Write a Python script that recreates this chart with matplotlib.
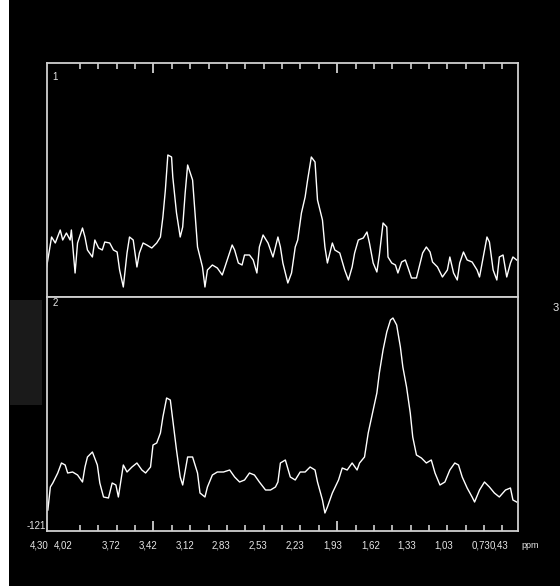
import numpy as np
import matplotlib
matplotlib.use("Agg")
import matplotlib.pyplot as plt
import matplotlib.transforms as mtransforms

# spectrum 1 (upper trace): chemical shift (ppm) / intensity (a.u.)
ppm_1 = [4.24, 4.20, 4.17, 4.13, 4.11, 4.08, 4.05, 4.04, 4.01, 3.99, 3.95, 3.93, 3.91, 3.87,
         3.85, 3.82, 3.79, 3.77, 3.73, 3.70, 3.67, 3.65, 3.62, 3.59, 3.57, 3.54, 3.51, 3.49,
         3.46, 3.43, 3.39, 3.35, 3.32, 3.30, 3.28, 3.26, 3.23, 3.22, 3.19, 3.16, 3.14, 3.12,
         3.10, 3.06, 3.04, 3.02, 2.98, 2.96, 2.94, 2.90, 2.86, 2.82, 2.78, 2.74, 2.72, 2.69,
         2.66, 2.64, 2.60, 2.57, 2.54, 2.52, 2.49, 2.45, 2.41, 2.37, 2.35, 2.33, 2.29, 2.26,
         2.23, 2.21, 2.18, 2.15, 2.13, 2.10, 2.07, 2.05, 2.01, 1.99, 1.97, 1.93, 1.91, 1.87,
         1.83, 1.80, 1.77, 1.75, 1.72, 1.68, 1.65, 1.63, 1.60, 1.57, 1.55, 1.52, 1.49, 1.48,
         1.45, 1.42, 1.40, 1.37, 1.34, 1.32, 1.29, 1.25, 1.22, 1.20, 1.17, 1.14, 1.12, 1.08,
         1.04, 1.00, 0.98, 0.95, 0.92, 0.90, 0.87, 0.84, 0.80, 0.76, 0.74, 0.71, 0.68, 0.66,
         0.63, 0.60, 0.58, 0.55, 0.52, 0.49, 0.47, 0.44]
amp_1 = [30, 60, 54, 67, 57, 64, 57, 67, 24, 54, 69, 60, 47, 40,
         57, 49, 47, 55, 54, 47, 45, 27, 10, 44, 60, 57, 30, 44,
         54, 52, 49, 54, 60, 80, 107, 142, 140, 120, 84, 60, 70, 104,
         132, 117, 84, 50, 30, 10, 27, 32, 29, 22, 37, 52, 47, 34,
         32, 42, 42, 37, 24, 50, 62, 54, 40, 60, 50, 34, 14, 24,
         50, 57, 84, 100, 117, 140, 135, 97, 77, 50, 34, 54, 47, 44,
         27, 17, 30, 44, 57, 59, 65, 54, 34, 25, 42, 74, 70, 40,
         34, 32, 24, 35, 37, 30, 19, 19, 34, 44, 50, 45, 35, 30,
         20, 27, 40, 24, 17, 34, 45, 37, 35, 27, 20, 40, 60, 55,
         27, 17, 40, 42, 20, 34, 40, 37]

# spectrum 2 (lower trace)
ppm_2 = [4.23, 4.21, 4.19, 4.15, 4.12, 4.09, 4.07, 4.03, 3.99, 3.95, 3.93, 3.91, 3.87, 3.83,
         3.81, 3.78, 3.74, 3.71, 3.68, 3.66, 3.62, 3.59, 3.55, 3.51, 3.47, 3.44, 3.40, 3.38,
         3.35, 3.32, 3.30, 3.27, 3.24, 3.22, 3.19, 3.16, 3.14, 3.10, 3.06, 3.02, 3.00, 2.96,
         2.94, 2.90, 2.86, 2.81, 2.76, 2.72, 2.68, 2.64, 2.60, 2.56, 2.52, 2.47, 2.43, 2.39,
         2.37, 2.35, 2.31, 2.27, 2.23, 2.19, 2.15, 2.11, 2.07, 2.05, 2.01, 1.99, 1.97, 1.93,
         1.88, 1.85, 1.81, 1.77, 1.73, 1.71, 1.67, 1.64, 1.60, 1.57, 1.55, 1.52, 1.49, 1.46,
         1.44, 1.41, 1.38, 1.36, 1.33, 1.30, 1.28, 1.25, 1.21, 1.17, 1.13, 1.10, 1.06, 1.02,
         0.98, 0.94, 0.91, 0.88, 0.84, 0.80, 0.78, 0.74, 0.70, 0.66, 0.62, 0.58, 0.53, 0.49,
         0.47, 0.44]
amp_2 = [21, 44, 48, 58, 68, 66, 58, 59, 56, 49, 64, 74, 79, 66,
         48, 34, 33, 48, 46, 34, 66, 59, 64, 68, 61, 58, 64, 86,
         88, 98, 114, 133, 131, 111, 81, 54, 46, 74, 74, 58, 38, 34,
         44, 56, 59, 59, 61, 54, 49, 51, 58, 56, 49, 41, 41, 44,
         49, 68, 71, 54, 51, 59, 59, 64, 61, 49, 31, 18, 24, 38,
         51, 63, 61, 68, 61, 68, 74, 98, 121, 138, 158, 181, 199, 211,
         213, 206, 184, 164, 144, 118, 94, 76, 73, 68, 71, 58, 46, 49,
         61, 68, 66, 54, 43, 34, 29, 41, 49, 44, 38, 34, 41, 43,
         31, 29]

tick_vals = [4.30, 4.02, 3.72, 3.42, 3.12, 2.83, 2.53, 2.23, 1.93, 1.62, 1.33, 1.03, 0.73, 0.43]
tick_text = ["4,30", "4,02", "3,72", "3,42", "3,12", "2,83", "2,53", "2,23", "1,93", "1,62",
             "1,33", "1,03", "0,73", "0,43"]
# crowded labels are pushed together on the scanner printout
label_shift = {4.02: 4.11, 0.43: 0.58}

fg = "#e6e6e6"
frame = "#d0d0d0"
font = ["Liberation Sans Narrow", "Liberation Sans", "DejaVu Sans"]

fig = plt.figure(figsize=(5.6, 5.86), dpi=100, facecolor="black")
fig.patches.append(plt.Rectangle((0, 0), 9 / 560, 1, transform=fig.transFigure,
                                 facecolor="white", edgecolor="none"))
fig.patches.append(plt.Rectangle((10 / 560, 181 / 586), 32 / 560, 105 / 586,
                                 transform=fig.transFigure, facecolor="#1a1a1a",
                                 edgecolor="none"))

x0, w = 47 / 560, 471 / 560
h = 234 / 586
ax1 = fig.add_axes([x0, 289 / 586, w, h])
ax2 = fig.add_axes([x0, 55 / 586, w, h])

small = np.arange(3.97, 0.43, -0.1485)
big = [small[4], small[14]]

for ax, p, a in [(ax1, ppm_1, amp_1), (ax2, ppm_2, amp_2)]:
    ax.set_facecolor("black")
    ax.plot(p, a, color="white", lw=1.0)
    ax.set_xlim(4.237, 0.429)
    ax.set_ylim(0, 234)
    ax.set_yticks([])
    for s in ax.spines.values():
        s.set_color(frame)
        s.set_linewidth(1.3)
    ax.set_xticks(big)
    ax.set_xticks(small, minor=True)
    ax.tick_params(axis="x", which="both", direction="in", colors=frame,
                   labelbottom=False, labeltop=False)
    ax.tick_params(axis="x", which="major", length=7, width=1.3)
    ax.tick_params(axis="x", which="minor", length=4, width=1.2)

ax1.tick_params(axis="x", which="both", top=True, bottom=False)
ax2.tick_params(axis="x", which="both", top=False, bottom=True)

ax1.text(0.012, 0.96, "1", transform=ax1.transAxes, color=fg, fontsize=7,
         va="top", ha="left", family=font)
ax2.text(0.012, 0.995, "2", transform=ax2.transAxes, color=fg, fontsize=7,
         va="top", ha="left", family=font)
ax2.text(-0.002, 0.02, "-121", transform=ax2.transAxes, color=fg, fontsize=7,
         va="center", ha="right", family=font)
fig.text(553 / 560, 1 - 308 / 586, "3", color=fg, fontsize=8, va="center",
         ha="left", family=font)

trans = mtransforms.blended_transform_factory(ax2.transData, fig.transFigure)
for v, t in zip(tick_vals, tick_text):
    ax2.text(label_shift.get(v, v), 1 - 545 / 586, t, transform=trans, color=fg,
             fontsize=7, ha="center", va="center", family=font, clip_on=False)
fig.text(530 / 560, 1 - 546 / 586, "ppm", color=fg, fontsize=6.5, ha="center",
         va="center", family=font)

fig.savefig("out.png", dpi=100, facecolor="black")
